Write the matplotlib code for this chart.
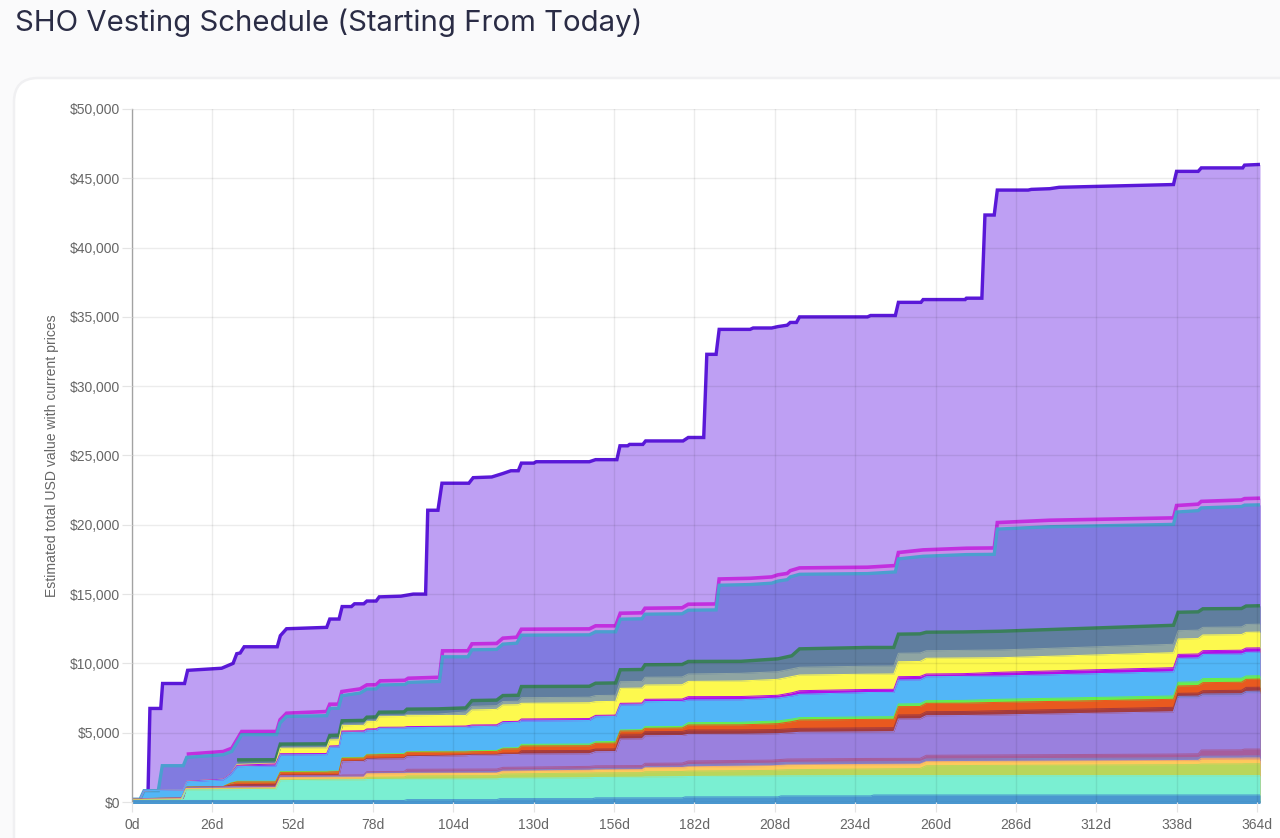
import matplotlib
matplotlib.use("Agg")
import matplotlib.pyplot as plt
from matplotlib.patches import FancyBboxPatch
from matplotlib.ticker import FuncFormatter

x_ticks = [0, 26, 52, 78, 104, 130, 156, 182, 208, 234, 260, 286, 312, 338, 364]
y_ticks = [0, 5000, 10000, 15000, 20000, 25000, 30000, 35000, 40000, 45000, 50000]

# top line
total_days = [5.2, 5.8, 9.3, 9.9, 17, 18, 29, 32.7, 33.9, 35, 36.3, 47, 48, 50, 63, 64, 67, 68, 71, 72,
              75, 76, 79, 80, 87, 91, 95, 95.7, 99, 100.3, 109, 110.4, 116.4, 120, 122.6, 125, 126, 130, 130.8, 148,
              150, 156.9, 157.9, 160.4, 161, 165.3, 166.2, 178.3, 180, 185, 186, 189, 190, 200, 201, 207, 209, 212, 213, 215,
              216, 238, 239, 247, 248, 255.3, 256, 269.6, 270, 275, 276, 279, 280, 290, 291, 297, 300, 337, 338, 345,
              346, 359.4, 360, 365]
total_vals = [815, 6750, 6750, 8550, 8550, 9500, 9650, 10000, 10700, 10750, 11200, 11200, 12000, 12500, 12600, 13200, 13200, 14100, 14100, 14300,
              14300, 14500, 14500, 14800, 14850, 15000, 15000, 21050, 21050, 23000, 23000, 23400, 23450, 23700, 23900, 23900, 24450, 24450, 24550, 24550,
              24700, 24700, 25700, 25700, 25800, 25800, 26050, 26050, 26300, 26300, 32300, 32300, 34100, 34100, 34200, 34200, 34300, 34400, 34600, 34600,
              35000, 35000, 35100, 35100, 36050, 36050, 36250, 36250, 36350, 36350, 42350, 42350, 44150, 44150, 44200, 44250, 44350, 44550, 45500, 45500,
              45750, 45750, 45950, 46000]

# magenta and teal edges
upper_days = [0, 2.6, 3.9, 8.5, 9.8, 16.6,
              17.7, 29.5, 32.3, 35.5, 46.8, 47.9, 50, 63, 64, 66.8,
              67.9, 73.8, 76, 79, 80.3, 88.3, 89.4, 99.5, 100.5, 108.7,
              110, 118, 120, 124.5, 126, 148, 150, 156.5, 158, 165,
              166, 178, 180, 189, 190, 200, 207, 209, 212, 213,
              216, 238, 247, 248, 256, 270, 279, 280, 297, 337,
              338, 345, 346, 359, 360, 365]
magenta_vals = [3450, 3640, 3880, 5085, 5090, 5930, 6405, 6530, 7055, 7060,
                7970, 8160, 8450, 8460, 8740, 8780, 8930, 9000, 10905, 10910,
                11410, 11440, 11820, 11890, 12465, 12490, 12710, 12710, 13620, 13650,
                13980, 14010, 14270, 14290, 16090, 16140, 16240, 16390, 16490, 16690,
                16890, 16940, 17060, 18000, 18190, 18310, 18330, 20160, 20330, 20500,
                21390, 21490, 21690, 21790, 21890, 21920]
teal_vals = [200, 200, 815, 815, 2620, 2620,
             3220, 3410, 3650, 4855, 4860, 5700, 6175, 6230, 6755, 6760,
             7670, 7860, 8150, 8160, 8440, 8480, 8630, 8700, 10475, 10480,
             10980, 11010, 11390, 11460, 12035, 12060, 12280, 12280, 13190, 13220,
             13550, 13580, 13840, 13860, 15640, 15690, 15790, 15940, 16040, 16240,
             16430, 16480, 16600, 17540, 17730, 17850, 17870, 19690, 19860, 20030,
             20920, 21020, 21220, 21320, 21420, 21440]

# middle of the stack
mid_days = [0, 2.6, 3.9, 16.6, 17.7, 29.5, 32, 34, 46.5, 48,
            63, 64, 67, 68, 75, 76, 79, 80, 88, 89,
            99, 108, 110, 118, 120, 125, 126, 148, 150, 156.5,
            158, 165, 166, 178, 180, 197, 209, 213.5, 216, 238,
            246.5, 248, 255, 257, 269, 281, 337, 338.5, 345, 346.5,
            359, 360.5, 365]
darkgreen_vals = [3040, 3050, 4180,
                  4200, 4800, 4820, 5860, 5890, 6120, 6140, 6480, 6500, 6700,
                  6720, 6790, 7320, 7350, 7680, 7700, 8330, 8350, 8570, 8590,
                  9540, 9560, 9900, 9920, 10140, 10150, 10330, 10550, 11050, 11150,
                  11150, 12110, 12130, 12250, 12270, 12320, 12750, 13690, 13720, 13940,
                  13960, 14140, 14160]
sage_vals = [200, 200, 815, 870, 1500, 1650, 2050, 2750, 2800, 3950,
             3960, 4540, 4560, 5600, 5630, 5880, 5900, 6230, 6250, 6320,
             6340, 6500, 6900, 6950, 7250, 7270, 7525, 7560, 7680, 7700,
             8680, 8700, 9000, 9020, 9235, 9285, 9400, 9600, 9720, 9800,
             9810, 10730, 10750, 10915, 10940, 10970, 11380, 12360, 12400, 12600,
             12630, 12810, 12830]
yellow_vals = [200, 200, 815, 870, 1500, 1650, 2050, 2700, 2780, 3875,
               3900, 4475, 4490, 5505, 5530, 5795, 5810, 6155, 6170, 6225,
               6240, 6240, 6640, 6680, 7000, 7020, 7120, 7160, 7240, 7260,
               8200, 8220, 8440, 8460, 8700, 8730, 8850, 9050, 9160, 9220,
               9235, 10120, 10140, 10370, 10390, 10410, 10770, 11760, 11790, 12050,
               12080, 12240, 12260]
violet_vals = [200, 200, 815, 870, 1500, 1650, 2050, 2650, 2750, 3485,
               3500, 4040, 4060, 5120, 5140, 5270, 5280, 5390, 5400, 5440,
               5460, 5480, 5555, 5570, 5800, 5820, 5990, 6020, 6250, 6270,
               7120, 7140, 7410, 7430, 7600, 7610, 7700, 7880, 8030, 8120,
               8130, 9040, 9060, 9235, 9260, 9360, 9690, 10650, 10680, 10920,
               10950, 11110, 11120]
sky_vals = [200, 200, 815, 870, 1465, 1600, 2000, 2550, 2600, 3390,
            3420, 3945, 3970, 5000, 5030, 5145, 5160, 5315, 5330, 5360,
            5380, 5380, 5435, 5460, 5720, 5740, 5845, 5880, 6155, 6170,
            7000, 7020, 7240, 7260, 7360, 7380, 7500, 7650, 7770, 7900,
            7915, 8800, 8820, 9040, 9060, 9090, 9400, 10370, 10400, 10650,
            10680, 10800, 10820]
green_vals = [195, 195, 250, 290, 1080, 1120, 1380, 1500, 1500, 2190,
              2210, 2230, 2240, 3195, 3220, 3440, 3450, 3470, 3490, 3630,
              3650, 3660, 3700, 3720, 3900, 3920, 4160, 4180, 4350, 4370,
              5195, 5220, 5435, 5450, 5720, 5750, 5850, 5980, 6085, 6140,
              6155, 7070, 7090, 7310, 7330, 7410, 7650, 8640, 8670, 8900,
              8930, 9090, 9110]
orange_vals = [195, 195, 250, 290, 1070, 1110, 1350, 1450, 1450, 2140,
               2150, 2170, 2190, 3150, 3170, 3390, 3400, 3410, 3430, 3585,
               3600, 3610, 3630, 3650, 3825, 3840, 4040, 4060, 4235, 4250,
               5120, 5140, 5315, 5340, 5555, 5565, 5650, 5800, 5915, 5960,
               5965, 6880, 6890, 7120, 7130, 7190, 7410, 8370, 8400, 8610,
               8640, 8850, 8870]
red_vals = [190, 190, 240, 290, 1060, 1100, 1220, 1250, 1280, 1950,
            1960, 1960, 1970, 2950, 2980, 3140, 3150, 3160, 3180, 3330,
            3360, 3400, 3430, 3440, 3520, 3530, 3700, 3720, 3820, 3830,
            4835, 4850, 5075, 5090, 5195, 5200, 5230, 5290, 5315, 5350,
            5360, 6280, 6290, 6515, 6530, 6590, 6830, 7840, 7860, 8030,
            8060, 8270, 8280]
purple_vals = [190, 190, 240, 290, 1050, 1080, 1110, 1120, 1130, 1900,
               1910, 1910, 1920, 2910, 2930, 3080, 3090, 3100, 3120, 3270,
               3300, 3340, 3370, 3380, 3420, 3430, 3460, 3480, 3630, 3640,
               4545, 4560, 4785, 4800, 4880, 4890, 4930, 4990, 5030, 5060,
               5075, 5990, 6000, 6225, 6240, 6280, 6510, 7480, 7500, 7650,
               7670, 7840, 7860]

# thin periwinkle sliver above purple, only near the end
peri_days = [337, 338.5, 345, 346.5, 359, 360.5, 365]
peri_vals = [6530, 7620, 7640, 7790, 7810, 7980, 8000]

# bottom of the stack
low_days = [0, 2.6, 3.9, 16, 17.5, 46.5, 48, 67, 68, 75,
            76, 88, 89, 118, 120, 148, 150, 165, 166, 178,
            180, 207, 212, 238, 255, 257, 337, 345, 346, 359,
            360, 365]
mauve_vals = [185, 190, 235, 285, 1040, 1120, 1890, 1910, 1950, 1960,
              2190, 2210, 2360, 2380, 2500, 2570, 2610, 2630, 2790, 2810,
              2960, 3020, 3100, 3140, 3150, 3370, 3460, 3480, 3750, 3760,
              3820, 3820]
slateblue_vals = [175, 180, 215, 250, 1000, 1050, 1800, 1840, 1840, 1860,
                  2090, 2110, 2130, 2200, 2300, 2380, 2420, 2440, 2560, 2590,
                  2700, 2800, 2860, 2900, 2920, 3100, 3180, 3190, 3300, 3310,
                  3320, 3320]
salmon_vals = [165, 170, 200, 230, 975, 1030, 1760, 1790, 1790, 1800,
               2040, 2060, 2070, 2090, 2220, 2290, 2320, 2340, 2470, 2490,
               2540, 2610, 2670, 2710, 2730, 2910, 2990, 3000, 3150, 3160,
               3170, 3170]
amber_vals = [150, 155, 180, 210, 950, 1010, 1710, 1740, 1740, 1750,
              2000, 2020, 2040, 2060, 2170, 2245, 2270, 2290, 2420, 2440,
              2490, 2560, 2620, 2660, 2680, 2860, 2930, 2940, 2990, 3000,
              3000, 3000]
olive_vals = [130, 135, 150, 170, 900, 960, 1600, 1640, 1640, 1650,
              1780, 1800, 1880, 1900, 2020, 2090, 2100, 2120, 2180, 2200,
              2230, 2280, 2330, 2380, 2420, 2620, 2690, 2700, 2740, 2750,
              2760, 2760]
mint_vals = [105, 110, 120, 140, 865, 915, 1540, 1590, 1590, 1600,
             1620, 1640, 1640, 1660, 1710, 1750, 1770, 1790, 1810, 1830,
             1840, 1880, 1890, 1900, 1900, 1900, 1900, 1900, 1900, 1900,
             1900, 1900]
blue_days = [0, 88, 89, 118, 119, 149, 150, 178, 179, 209, 210, 239, 240, 365]
blue_vals = [110, 110, 170, 170, 240, 240, 300, 300, 370, 370, 440, 440, 505, 505]

PX = 0.72  # one pixel in points at dpi 100

fig = plt.figure(figsize=(12.8, 8.38), dpi=100, facecolor="#fafafb")

# page card behind the chart
bg = fig.add_axes([0, 0, 1, 1])
bg.set_xlim(0, 1280)
bg.set_ylim(838, 0)
bg.axis("off")
bg.add_patch(FancyBboxPatch((14, 78), 1400, 900, boxstyle="round,pad=0,rounding_size=24",
                            fc="white", ec="#f0f0f2", lw=2.5 * PX))

fig.text(15 / 1280, 1 - 23 / 838, "SHO Vesting Schedule (Starting From Today)",
         family="Inter", fontsize=21.15, color="#2a2c45", va="center", ha="left")

ax = fig.add_axes([132 / 1280, (838 - 802) / 838, 1128 / 1280, 693 / 838])
ax.patch.set_alpha(0)

# painted from the top of the stack down, each one filled to zero
layers = [
    (total_days, total_vals, "#be9ff3", "#5a18d8", 3.4),
    (upper_days[6:], magenta_vals, "#c88ee9", "#c22fdf", 3.6),
    (upper_days, teal_vals, "#817be0", "#4b9fcf", 3.3),
    (mid_days[7:], darkgreen_vals, "#607e9f", "#3a7f5b", 3.4),
    (mid_days, sage_vals, "#8fa5a3", "#8fa5a3", 1.0),
    (mid_days, yellow_vals, "#fdf94e", "#fdf94e", 1.0),
    (mid_days, violet_vals, "#b20ee8", "#b20ee8", 1.0),
    (mid_days, sky_vals, "#52b6f7", "#52b6f7", 1.0),
    (mid_days, green_vals, "#66ef4c", "#66ef4c", 1.0),
    (mid_days, orange_vals, "#e9591f", "#e9591f", 1.0),
    (mid_days, red_vals, "#a33b3f", "#a33b3f", 1.0),
    (peri_days, peri_vals, "#7d7fd3", "#7d7fd3", 1.0),
    (mid_days, purple_vals, "#9a80de", "#9a80de", 1.0),
    (low_days, mauve_vals, "#a65d9d", "#a65d9d", 1.0),
    (low_days, slateblue_vals, "#8583c7", "#8583c7", 1.0),
    (low_days, salmon_vals, "#f4a66e", "#f4a66e", 1.0),
    (low_days, amber_vals, "#fec95c", "#fec95c", 1.0),
    (low_days, olive_vals, "#b9d65b", "#b9d65b", 1.0),
    (low_days, mint_vals, "#7aefd2", "#7aefd2", 1.0),
    (blue_days, blue_vals, "#4a97cf", "#4a97cf", 1.0),
]
for days, vals, fill_color, line_color, line_px in layers:
    ax.fill_between(days, vals, 0, color=fill_color, lw=0)
    ax.plot(days, vals, color=line_color, lw=line_px * PX, solid_joinstyle="miter", solid_capstyle="butt")

# baseline edge of the blue band hangs just under zero
ax.plot([0, 365], [0, 0], color="#4a97cf", lw=3 * PX, clip_on=False, solid_capstyle="butt")

ax.set_xlim(0, 365)
ax.set_ylim(0, 50000)
ax.set_xticks(x_ticks)
ax.set_yticks(y_ticks)
ax.xaxis.set_major_formatter(FuncFormatter(lambda d, _: f"{d:.0f}d"))
ax.yaxis.set_major_formatter(FuncFormatter(lambda v, _: f"${v:,.0f}"))
ax.grid(True, color="black", alpha=0.075, lw=1.4 * PX)
ax.set_axisbelow(False)
ax.tick_params(axis="x", length=7.4, width=1.2 * PX, color="#e4e4e4", labelcolor="#666666", pad=3.8,
               labelsize=10)
ax.tick_params(axis="y", length=7.4, width=1.2 * PX, color="#e4e4e4", labelcolor="#666666", pad=1.0,
               labelsize=10)
for lab in ax.get_xticklabels() + ax.get_yticklabels():
    lab.set_family("Liberation Sans")
for side in ["top", "right", "bottom"]:
    ax.spines[side].set_visible(False)
ax.spines["left"].set_color("#b0b0b0")
ax.spines["left"].set_linewidth(1.4 * PX)

ax.set_ylabel("Estimated total USD value with current prices", family="Liberation Sans",
              fontsize=10.05, color="#666666")
ax.yaxis.set_label_coords((59 - 132) / 1128, (802 - 456) / 693)

fig.savefig("out.png", dpi=100, facecolor=fig.get_facecolor())
